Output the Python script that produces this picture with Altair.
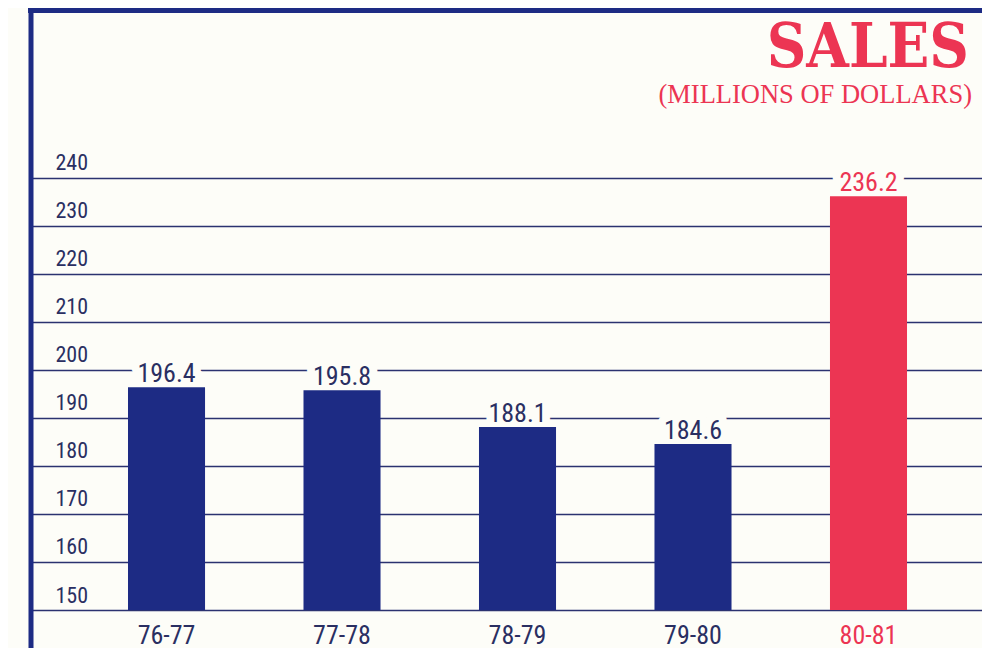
import altair as alt
import pandas as pd

years = ["76-77", "77-78", "78-79", "79-80", "80-81"]
sales = [196.4, 195.8, 188.1, 184.6, 236.2]
y_ticks = [150, 160, 170, 180, 190, 200, 210, 220, 230, 240]
highlight_year = "80-81"
title_main = "SALES"
title_sub = "(MILLIONS OF DOLLARS)"

NAVY = "#1d2b84"
RED = "#ec3553"
TEXT_NAVY = "#2a2f62"
LINE = "#2b3270"
BG = "#fdfdf8"
NUM_FONT = "Liberation Sans Narrow, Roboto Condensed, Liberation Sans, sans-serif"
SERIF_BOLD = "DejaVu Serif Condensed, DejaVu Serif, Liberation Serif, serif"
SERIF = "Liberation Serif, DejaVu Serif, serif"

W, H = 951, 602

df = pd.DataFrame({"year": years, "sales": sales})

x_scale = alt.Scale(domain=years, paddingInner=0.561, paddingOuter=0.49, align=0.564)
y_scale = alt.Scale(domain=[150, 275.4], nice=False, zero=False)

x_enc = alt.X(
    "year:N", scale=x_scale, sort=years, title=None,
    axis=alt.Axis(
        domain=False, ticks=False, tickSize=0, labelAngle=0, labelPadding=12,
        labelBaseline="top", labelFontSize=26, labelFont=NUM_FONT,
        labelColor=alt.expr(f"datum.value == '{highlight_year}' ? '{RED}' : '{TEXT_NAVY}'"),
    ),
)
y_enc = alt.Y(
    "sales:Q", scale=y_scale, title=None,
    axis=alt.Axis(
        values=y_ticks, grid=True, gridColor=LINE, gridWidth=1.3, gridOpacity=1,
        domain=False, ticks=False, tickSize=0, labelAlign="left", labelPadding=-24,
        labelBaseline="alphabetic", labelOffset=-8, labelFontSize=22, labelFont=NUM_FONT,
        labelColor=TEXT_NAVY, labelFlush=False, labelOverlap=False,
    ),
)

is_hl = alt.datum.year == highlight_year
base = alt.Chart(df)

halo = base.mark_text(
    baseline="alphabetic", dy=-5, fontSize=26, font=NUM_FONT,
    stroke=BG, strokeWidth=16, fill=BG, strokeJoin="round",
).encode(x=x_enc, y=y_enc, text=alt.Text("sales:Q", format=".1f"))

bars = base.mark_bar().encode(
    x=x_enc, y=y_enc, y2=alt.datum(150),
    color=alt.condition(is_hl, alt.value(RED), alt.value(NAVY)),
)

labels = base.mark_text(
    baseline="alphabetic", dy=-5, fontSize=26, font=NUM_FONT,
).encode(
    x=x_enc, y=y_enc, text=alt.Text("sales:Q", format=".1f"),
    color=alt.condition(is_hl, alt.value(RED), alt.value(TEXT_NAVY)),
)

left_border = alt.Chart(pd.DataFrame({"k": [0]})).mark_rule(
    color=NAVY, strokeWidth=5
).encode(x=alt.value(0), y=alt.value(0), y2=alt.value(660))

top_border = alt.Chart(pd.DataFrame({"k": [0]})).mark_rule(
    color=NAVY, strokeWidth=6
).encode(x=alt.value(-3), x2=alt.value(W + 5), y=alt.value(2))

t_main = alt.Chart(pd.DataFrame({"t": [title_main]})).mark_text(
    align="right", baseline="alphabetic", font=SERIF_BOLD, fontSize=61,
    fontWeight="bold", color=RED,
).encode(x=alt.value(938), y=alt.value(59), text="t:N")

t_sub = alt.Chart(pd.DataFrame({"t": [title_sub]})).mark_text(
    align="right", baseline="alphabetic", font=SERIF, fontSize=26.5,
    color=RED,
).encode(x=alt.value(941), y=alt.value(95), text="t:N")

chart = alt.layer(halo, bars, labels, left_border, top_border, t_main, t_sub).properties(
    width=W, height=H,
    autosize=alt.AutoSizeParams(type="none"),
    padding={"left": 23, "top": 0, "right": 0, "bottom": 38},
    background=BG,
).configure_view(stroke=None)

chart.save("out.html", embed_options={"renderer": "svg", "actions": False})
